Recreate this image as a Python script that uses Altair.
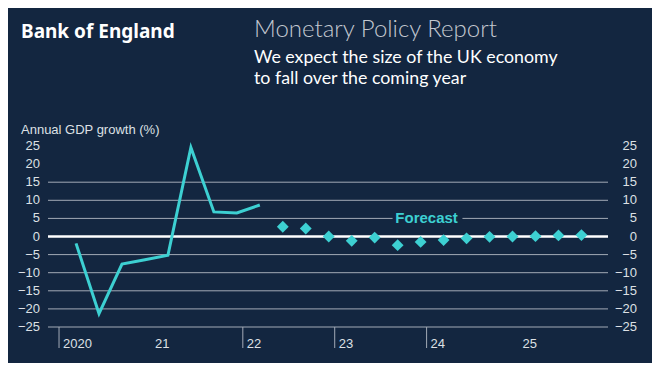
import altair as alt
import pandas as pd

BG = "#132640"
CYAN = "#3dd0d2"
GRID = "#a3aab6"
TEXT = "#dde0e5"
FONT = "Liberation Sans"

# ---- data ----
line_quarters = ["2020 Q1", "2020 Q2", "2020 Q3", "2020 Q4", "2021 Q1",
                 "2021 Q2", "2021 Q3", "2021 Q4", "2022 Q1"]
line_growth = [-1.9, -21.3, -7.6, -6.4, -5.2, 24.6, 6.8, 6.5, 8.7]

forecast_quarters = ["2022 Q2", "2022 Q3", "2022 Q4", "2023 Q1", "2023 Q2",
                     "2023 Q3", "2023 Q4", "2024 Q1", "2024 Q2", "2024 Q3",
                     "2024 Q4", "2025 Q1", "2025 Q2", "2025 Q3"]
forecast_growth = [2.7, 2.2, 0.0, -1.2, -0.3, -2.4, -1.5, -1.0, -0.5, -0.1,
                   0.0, 0.1, 0.3, 0.4]

axis_values = [25, 20, 15, 10, 5, 0, -5, -10, -15, -20, -25]
grid_values = [15, 10, 5, -5, -10, -15, -20, -25]
label_years = [2020, 2021, 2022, 2023, 2024, 2025]
year_labels = ["2020", "21", "22", "23", "24", "25"]
tick_years = [2020, 2022, 2023, 2024]
forecast_label = "Forecast"
forecast_label_x = 2024
forecast_label_y = 5
forecast_gap = [2023.63, 2024.39]


def to_time(q):
    year, qq = q.split(" Q")
    return int(year) + (int(qq) - 1) * 0.25 + 0.185


line_df = pd.DataFrame({"t": [to_time(q) for q in line_quarters],
                        "v": line_growth, "q": line_quarters})
fc_df = pd.DataFrame({"t": [to_time(q) for q in forecast_quarters],
                      "v": forecast_growth, "q": forecast_quarters})
grid_df = pd.DataFrame({"v": grid_values})
axis_df = pd.DataFrame({"v": axis_values})
years_df = pd.DataFrame({"year": label_years, "label": year_labels})
ticks_df = pd.DataFrame({"year": tick_years})

W, H = 560, 181
x_scale = alt.Scale(domain=[2019.88, 2025.974], nice=False, zero=False)
y_scale = alt.Scale(domain=[-25, 25], nice=False, zero=False)

grid = alt.Chart(grid_df).mark_rule(color=GRID, strokeWidth=1).encode(
    y=alt.Y("v:Q", scale=y_scale, axis=None),
    x=alt.value(0), x2=alt.value(W),
)

zero = alt.Chart(pd.DataFrame({"v": [0]})).mark_rule(
    color="white", strokeWidth=2.5).encode(
    y=alt.Y("v:Q", scale=y_scale, axis=None),
    x=alt.value(0), x2=alt.value(W),
)

gap = alt.Chart(pd.DataFrame({"a": [forecast_gap[0]], "b": [forecast_gap[1]],
                              "v": [forecast_label_y]})).mark_rule(
    color=BG, strokeWidth=5).encode(
    x=alt.X("a:Q", scale=x_scale, axis=None), x2="b:Q",
    y=alt.Y("v:Q", scale=y_scale, axis=None),
)

flabel = alt.Chart(pd.DataFrame({"t": [forecast_label_x], "v": [forecast_label_y],
                                 "s": [forecast_label]})).mark_text(
    color=CYAN, font=FONT, fontWeight="bold", fontSize=15,
    align="center", baseline="middle").encode(
    x=alt.X("t:Q", scale=x_scale, axis=None),
    y=alt.Y("v:Q", scale=y_scale, axis=None),
    text="s:N",
)

line = alt.Chart(line_df).mark_line(color=CYAN, strokeWidth=3).encode(
    x=alt.X("t:Q", scale=x_scale, axis=None),
    y=alt.Y("v:Q", scale=y_scale, axis=None),
)

diamonds = alt.Chart(fc_df).mark_point(
    shape="diamond", filled=True, color=CYAN, opacity=1, size=140).encode(
    x=alt.X("t:Q", scale=x_scale, axis=None),
    y=alt.Y("v:Q", scale=y_scale, axis=None),
)

left_labels = alt.Chart(axis_df).mark_text(
    color=TEXT, font=FONT, fontSize=13, align="right", baseline="middle").encode(
    y=alt.Y("v:Q", scale=y_scale, axis=None),
    x=alt.value(-8),
    text=alt.Text("v:Q"),
)

right_labels = alt.Chart(axis_df).mark_text(
    color=TEXT, font=FONT, fontSize=13, align="right", baseline="middle").encode(
    y=alt.Y("v:Q", scale=y_scale, axis=None),
    x=alt.value(W + 29),
    text=alt.Text("v:Q"),
)

xticks = alt.Chart(ticks_df).mark_rule(color=GRID, strokeWidth=1).encode(
    x=alt.X("year:Q", scale=x_scale, axis=None),
    y=alt.value(H), y2=alt.value(H + 21),
)

xlabels = alt.Chart(years_df).mark_text(
    color=TEXT, font=FONT, fontSize=13, align="left", baseline="alphabetic",
    dx=4).encode(
    x=alt.X("year:Q", scale=x_scale, axis=None),
    y=alt.value(H + 21),
    text="label:N",
)

brand = alt.Chart(pd.DataFrame({"a": [0]})).mark_text(
    text="Bank of England", color="white", font="Noto Sans", fontWeight="bold",
    fontSize=19, align="left", baseline="alphabetic").encode(
    x=alt.value(-27), y=alt.value(-108.5))

report = alt.Chart(pd.DataFrame({"a": [0]})).mark_text(
    text="Monetary Policy Report", color="#c3c8d0", font="Lato", fontWeight=300,
    fontSize=24, align="left", baseline="alphabetic").encode(
    x=alt.value(206), y=alt.value(-108.7))

subtitle = alt.Chart(pd.DataFrame({"a": [0]})).mark_text(
    text=["We expect the size of the UK economy", "to fall over the coming year"],
    color="white", font="Lato", fontSize=17.8, lineHeight=21,
    align="left", baseline="alphabetic").encode(
    x=alt.value(206), y=alt.value(-83.3))

ytitle = alt.Chart(pd.DataFrame({"a": [0]})).mark_text(
    text="Annual GDP growth (%)", color=TEXT, font=FONT, fontSize=13,
    align="left", baseline="alphabetic").encode(
    x=alt.value(-27), y=alt.value(-12))

chart = alt.layer(
    grid, zero, gap, flabel, line, diamonds, left_labels, right_labels,
    xticks, xlabels, brand, report, subtitle, ytitle,
).properties(
    width=W, height=H,
    autosize=alt.AutoSizeParams(type="none"),
    padding={"left": 40, "top": 138, "right": 44, "bottom": 36},
    background=BG,
).configure_view(stroke=None)

chart.save("out.html", embed_options={"renderer": "svg", "actions": False})
